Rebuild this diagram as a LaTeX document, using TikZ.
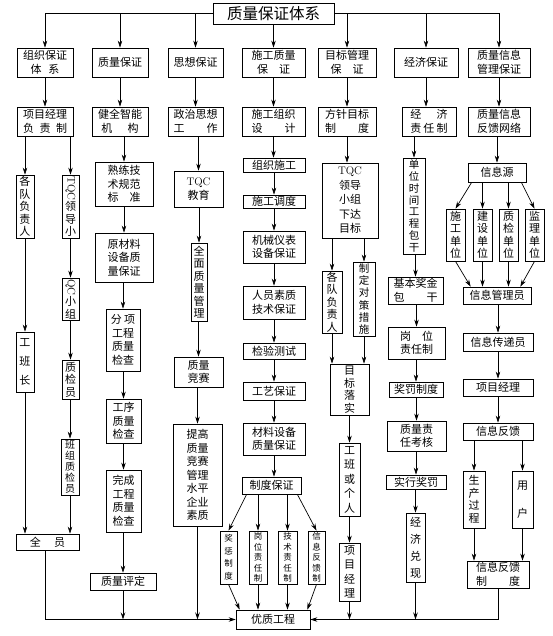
\documentclass[tikz,border=0pt]{standalone}
\usepackage{fontspec}
\usepackage{graphicx}
\newfontfamily\cjk{Noto Sans CJK SC}
\usetikzlibrary{arrows.meta}
\tikzset{
  bx/.style={draw, line width=0.7pt, inner sep=0pt, align=center, font=\cjk\fontsize{11}{13.5}\selectfont},
  vt/.style={font=\cjk\fontsize{11}{12.5}\selectfont},
  sm/.style={font=\cjk\fontsize{8.5}{10.4}\selectfont},
  arr/.style={-{Stealth[length=7pt,width=4.5pt]}, line width=0.7pt},
  ln/.style={line width=0.7pt}
}
\newcommand\bx[7][]{\node[bx,#1, minimum width={#5-#3}, minimum height={#6-#4}] (#2) at ({(#3+#5)/2},{(#4+#6)/2}) {#7};}
\newcommand\varr[2]{\draw[arr] (#1.south -| #2.north) -- (#2.north);}
\newcommand\darr[2]{\draw[arr] (#1.south) -- (#1.south |- #2.north);}
\begin{document}
\begin{tikzpicture}[x=1pt,y=-1pt]
\useasboundingbox (0,0) rectangle (553,636);
\fill[white] (0,0) rectangle (553,636);
% title
\bx[font=\cjk\fontsize{15.5}{18}\selectfont]{T}{213}{3}{334}{24}{质量保证体系}
% level 1
\bx{a1}{17}{48}{73}{77}{组织保证\\体\hspace{0.6em}系}
\bx{b1}{92}{48}{148}{77}{质量保证}
\bx{c1}{168}{48}{223}{77}{思想保证}
\bx{d1}{242}{48}{305}{77}{施工质量\\保\hspace{1em}证}
\bx{e1}{318}{48}{376}{77}{目标管理\\保\hspace{1em}证}
\bx{f1}{394}{48}{458}{77}{经济保证}
\bx{g1}{468}{48}{530}{77}{质量信息\\管理保证}
% level 2
\bx{a2}{17}{107}{73}{136}{项目经理\\\makebox[4em]{负\hfill 责\hfill 制}}
\bx{b2}{92}{107}{148}{136}{健全智能\\\makebox[4em]{\hspace{0.3em}机\hfill 构\hspace{0.3em}}}
\bx{c2}{168}{107}{223}{136}{政治思想\\\makebox[4em]{工\hfill 作}}
\bx{d2}{242}{107}{305}{136}{施工组织\\\makebox[4em]{设\hfill 计}}
\bx{e2}{318}{107}{376}{136}{方针目标\\\makebox[4em]{制\hfill 度}}
\bx{f2}{402}{107}{456}{136}{\makebox[3.4em]{经\hfill 济}\\\makebox[3.4em]{责\hfill 任\hfill 制}}
\bx{g2}{468}{107}{530}{136}{质量信息\\反馈网络}
% column 1
\bx[vt]{a3}{16}{175}{34}{238}{各\\队\\负\\责\\人}
\bx[vt]{a4}{62}{175}{79}{238}{\rotatebox{-90}{\rmfamily TQC}\\领\\导\\小}
\bx[vt]{a5}{62}{278}{79}{320}{\rotatebox{-90}{\rmfamily QC}\\小\\组}
\bx[font=\cjk\fontsize{11}{19}\selectfont]{a6}{16}{332}{34}{392}{工\\班\\长}
\bx[vt]{a7}{62}{360}{79}{399}{质\\检\\员}
\bx[font=\cjk\fontsize{10}{11}\selectfont]{a8}{61}{439}{79}{495}{班\\组\\质\\检\\员}
\bx{a9}{16}{534}{79}{550}{全\hspace{1.2em}员}
% column 2
\bx{b3}{95}{162}{153}{206}{熟练技\\术规范\\\makebox[3em]{标\hfill 准}}
\bx{b4}{95}{233}{153}{282}{原材料\\设备质\\量保证}
\bx[font=\cjk\fontsize{11}{13.5}\selectfont]{b5}{106}{309}{140}{371}{分\hspace{0.2em}项\\工程\\质量\\检查}
\bx{b6}{106}{399}{141}{443}{工序\\质量\\检查}
\bx{b7}{106}{470}{141}{532}{完成\\工程\\质量\\检查}
\bx{b8}{90}{573}{156}{590}{质量评定}
% column 3
\bx{c3}{174}{171}{223}{207}{{\rmfamily TQC}\\教育}
\bx[vt]{c4}{191}{243}{207}{321}{全\\面\\质\\量\\管\\理}
\bx{c5}{174}{357}{223}{387}{质量\\竞赛}
\bx{c6}{173}{424}{222}{526}{提高\\质量\\竞赛\\管理\\水平\\企业\\素质}
% column 4
\bx{d3}{243}{158}{305}{172}{组织施工}
\bx{d4}{243}{195}{305}{208}{施工调度}
\bx{d5}{243}{231}{305}{263}{机械仪表\\设备保证}
\bx{d6}{243}{286}{305}{319}{人员素质\\技术保证}
\bx{d7}{243}{343}{305}{359}{检验测试}
\bx{d8}{243}{382}{305}{400}{工艺保证}
\bx{d9}{243}{423}{305}{455}{材料设备\\质量保证}
\bx{d10}{242}{477}{301}{494}{制度保证}
\bx[sm,font=\cjk\fontsize{8.5}{12.5}\selectfont]{d11}{220}{531}{237}{584}{奖\\惩\\制\\度}
\bx[sm]{d12}{249}{531}{267}{584}{岗\\位\\责\\任\\制}
\bx[sm]{d13}{278}{531}{297}{584}{技\\术\\责\\任\\制}
\bx[sm]{d14}{308}{531}{325}{584}{信\\息\\反\\馈\\制}
\bx{Y}{236}{610}{310}{629}{优质工程}
% column 5
\bx[font=\cjk\fontsize{11}{14.5}\selectfont]{e3}{322}{163}{378}{238}{{\rmfamily TQC}\\领导\\小组\\下达\\目标}
\bx[vt]{e4}{322}{271}{342}{333}{各\\队\\负\\责\\人}
\bx[font=\cjk\fontsize{10.5}{12.2}\selectfont]{e5}{353}{262}{375}{336}{制\\定\\对\\策\\措\\施}
\bx[vt]{e6}{330}{364}{369}{415}{目\\标\\落\\实}
\bx[font=\cjk\fontsize{11}{14.5}\selectfont]{e7}{339}{443}{360}{516}{工\\班\\或\\个\\人}
\bx[font=\cjk\fontsize{11}{14.5}\selectfont]{e8}{339}{543}{360}{601}{项\\目\\经\\理}
% column 6
\bx[font=\cjk\fontsize{10.5}{11.8}\selectfont]{f3}{403}{158}{425}{254}{单\\位\\时\\间\\工\\程\\包\\干}
\bx{f4}{388}{277}{443}{304}{基本奖金\\\makebox[4em]{包\hfill 干}}
\bx{f5}{388}{327}{445}{359}{\makebox[3em]{岗\hfill 位}\\责任制}
\bx{f6}{389}{382}{443}{397}{奖罚制度}
\bx{f7}{387}{421}{446}{451}{质量责\\任考核}
\bx{f8}{386}{475}{446}{489}{实行奖罚}
\bx[font=\cjk\fontsize{11}{17}\selectfont]{f9}{406}{513}{425}{582}{经\\济\\兑\\现}
% column 7
\bx{g3}{468}{163}{526}{182}{信息源}
\bx[vt]{g4}{446}{209}{465}{261}{施\\工\\单\\位}
\bx[vt]{g5}{473}{209}{492}{261}{建\\设\\单\\位}
\bx[vt]{g6}{499}{209}{518}{261}{质\\检\\单\\位}
\bx[vt]{g7}{525}{209}{544}{261}{监\\理\\单\\位}
\bx{g8}{463}{287}{531}{304}{信息管理员}
\bx{g9}{463}{333}{533}{351}{信息传递员}
\bx{g10}{463}{379}{533}{396}{项目经理}
\bx{g11}{463}{423}{533}{440}{信息反馈}
\bx[vt]{g12}{463}{471}{485}{528}{生\\产\\过\\程}
\bx[font=\cjk\fontsize{11}{28}\selectfont]{g13}{512}{471}{533}{528}{用\\户}
\bx{g14}{467}{561}{529}{588}{信息反馈\\\makebox[4em]{制\hfill 度}}
% title connectors
\draw[arr] (T.west) -| (a1.north);
\draw[arr] (T.east) -| (g1.north);
\draw[arr] (b1.north |- T.west) -- (b1.north);
\draw[arr] (c1.north |- T.west) -- (c1.north);
\draw[arr] (e1.north |- T.east) -- (e1.north);
\draw[arr] (f1.north |- T.east) -- (f1.north);
\draw[arr] (T.south) -- (d1.north);
% level1 -> level2
\darr{a1}{a2} \darr{b1}{b2} \darr{c1}{c2} \darr{d1}{d2} \darr{e1}{e2} \darr{f1}{f2} \darr{g1}{g2}
% column 1
\varr{a2}{a3} \varr{a2}{a4}
\darr{a3}{a6} \darr{a6}{a9}
\darr{a4}{a5} \darr{a5}{a7} \varr{a7}{a8} \darr{a8}{a9}
\draw[arr] ([xshift=-2pt]a9.south) |- (Y.west);
% column 2
\varr{b2}{b3} \varr{b3}{b4} \varr{b4}{b5} \varr{b5}{b6} \varr{b6}{b7} \varr{b7}{b8}
\draw[arr] (b8.south) -- (b8.south |- Y.west);
% column 3
\varr{c2}{c3} \varr{c3}{c4} \varr{c4}{c5} \varr{c5}{c6}
\draw[arr] (c6.south) -- (c6.south |- Y.west);
% column 4
\darr{d2}{d3} \darr{d3}{d4} \darr{d4}{d5} \darr{d5}{d6} \darr{d6}{d7} \darr{d7}{d8} \darr{d8}{d9} \darr{d9}{d10}
\draw[arr] ([xshift=5pt]d10.south west) -- (d11.north);
\varr{d10}{d12} \varr{d10}{d13}
\draw[arr] ([xshift=-4pt]d10.south east) -- (d14.north);
\draw[arr] (d11.south) -- ([xshift=4pt]Y.north west);
\darr{d12}{Y} \darr{d13}{Y}
\draw[arr] (d14.south) -- ([xshift=-3pt]Y.north east);
% column 5
\darr{e2}{e3} \varr{e3}{e4} \varr{e3}{e5}
\darr{e4}{e6} \darr{e5}{e6}
\varr{e6}{e7} \varr{e7}{e8}
\draw[arr] (e8.south) -- (e8.south |- Y.east);
% column 6
\varr{f2}{f3} \varr{f3}{f4} \varr{f4}{f5} \varr{f5}{f6} \varr{f6}{f7} \varr{f7}{f8} \varr{f8}{f9}
\draw[arr] (f9.south) -- (f9.south |- Y.east);
% column 7
\varr{g2}{g3}
\draw[arr] ([xshift=4pt]g3.south west) -- (g4.north);
\varr{g3}{g5} \varr{g3}{g6}
\draw[arr] ([xshift=-5pt]g3.south east) -- (g7.north);
\draw[arr] (g4.south) -- ([xshift=8pt]g8.north west);
\darr{g5}{g8} \darr{g6}{g8}
\draw[arr] (g7.south) -- ([xshift=-11pt]g8.north east);
\varr{g8}{g9} \varr{g9}{g10} \varr{g10}{g11} \varr{g11}{g12} \varr{g11}{g13}
\darr{g12}{g14} \darr{g13}{g14}
\draw[arr] (g14.south) |- (Y.east);
\end{tikzpicture}
\end{document}
